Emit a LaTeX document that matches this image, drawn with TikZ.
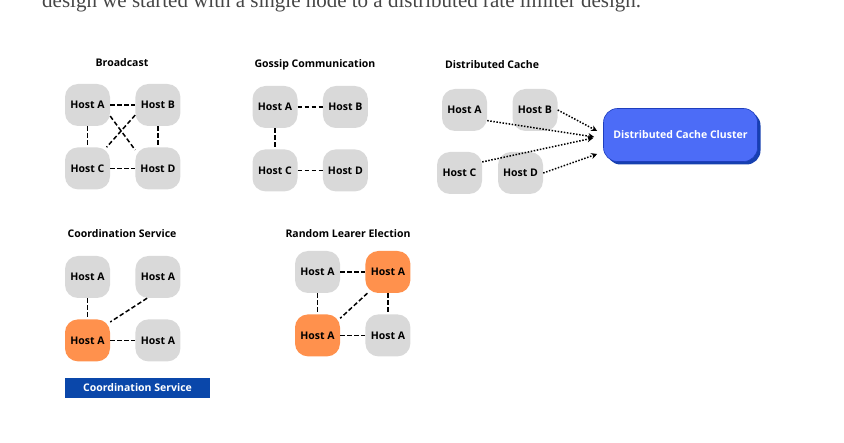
\documentclass[tikz,border=0pt]{standalone}
\usepackage{fontspec}
\setsansfont{Open Sans}
\newfontfamily\introfont{Liberation Serif}
\usepackage{tikz}
\usetikzlibrary{positioning, calc, arrows.meta, shadows}
\definecolor{hostgray}{RGB}{217, 217, 217}
\definecolor{leaderorange}{RGB}{255, 145, 77}
\definecolor{cacheblue}{RGB}{76, 108, 247}
\definecolor{cacheedge}{RGB}{30, 62, 190}
\definecolor{shadeblue}{RGB}{22, 64, 176}
\definecolor{coordblue}{RGB}{10, 71, 170}
\definecolor{introgray}{RGB}{70, 70, 70}

\tikzset{
    hostbox/.style={rectangle, rounded corners=13pt, fill=hostgray, minimum width=45pt, minimum height=42pt, inner sep=0pt, font=\sffamily\bfseries\fontsize{10.5}{12}\selectfont},
    leaderbox/.style={hostbox, fill=leaderorange},
    paneltitle/.style={font=\sffamily\bfseries\fontsize{10.5}{12}\selectfont},
    link/.style={line width=1.5pt, dash pattern=on 4.5pt off 2.5pt},
    cachelink/.style={line width=1.5pt, dash pattern=on 1.5pt off 1.6pt, -{Stealth[length=6pt,width=6pt]}}
}

\begin{document}
\begin{tikzpicture}[x=1pt, y=-1pt, node distance=21pt and 25pt]
    \useasboundingbox (0,0) rectangle (844,443);
    \clip (0,0) rectangle (844,443);

    % Text cut off above the figure
    \node[anchor=base west, inner sep=0pt, text=introgray, font=\introfont\fontsize{21}{24}\selectfont] (intro) at (42,7.5) {design we started with a single node to a distributed rate limiter design.};

    % Broadcast
    \node[paneltitle] (bcTitle) at (122,63) {Broadcast};
    \node[hostbox] (bcA) at (87.5,105) {Host A};
    \node[hostbox, right=of bcA] (bcB) {Host B};
    \node[hostbox, below=of bcA] (bcC) {Host C};
    \node[hostbox, below=of bcB] (bcD) {Host D};
    \draw[link] (bcA) -- (bcB);
    \draw[link] (bcA) -- (bcC);
    \draw[link] (bcB) -- (bcD);
    \draw[link] (bcC) -- (bcD);
    \draw[link] (bcA.-26) -- (bcD.141);
    \draw[link] (bcB.-156) -- (bcC.48);

    % Gossip Communication
    \node[paneltitle] (gsTitle) at (315,65) {Gossip Communication};
    \node[hostbox] (gsA) at (275,107) {Host A};
    \node[hostbox, right=of gsA] (gsB) {Host B};
    \node[hostbox, below=of gsA] (gsC) {Host C};
    \node[hostbox, below=of gsB] (gsD) {Host D};
    \draw[link] (gsA) -- (gsB);
    \draw[link] (gsA) -- (gsC);
    \draw[link] (gsC) -- (gsD);

    % Distributed Cache
    \node[paneltitle] (dcTitle) at (492,65) {Distributed Cache};
    \node[hostbox] (dcA) at (464.5,110) {Host A};
    \node[hostbox] (dcB) at (535,110) {Host B};
    \node[hostbox] (dcC) at (459.5,173) {Host C};
    \node[hostbox] (dcD) at (520.5,173) {Host D};
    \node[rectangle, rounded corners=14pt, fill=cacheblue, draw=cacheedge, line width=0.6pt, minimum width=154pt, minimum height=53pt, text=white, font=\sffamily\bfseries\fontsize{10.5}{12}\selectfont, drop shadow={shadow xshift=3pt, shadow yshift=-3pt, fill=shadeblue, opacity=1}] (cluster) at (680.5,135) {Distributed Cache Cluster};
    \coordinate (inB) at ($(cluster.west)+(-6,-4)$);
    \coordinate (inA) at ($(cluster.west)+(-9,2)$);
    \coordinate (inC) at ($(cluster.west)+(-10,3)$);
    \coordinate (inD) at ($(cluster.west)+(-6,19)$);
    \draw[cachelink] (dcB.east) -- (inB);
    \draw[cachelink] (dcA.-25) -- (inA);
    \draw[cachelink] (dcC.26) -- (inC);
    \draw[cachelink] (dcD.east) -- (inD);

    % Coordination Service
    \node[paneltitle] (csTitle) at (122,234) {Coordination Service};
    \node[hostbox] (csA) at (87.5,277) {Host A};
    \node[hostbox, right=of csA] (csB) {Host A};
    \node[leaderbox, below=of csA] (csC) {Host A};
    \node[hostbox, below=of csB] (csD) {Host A};
    \draw[link] (csA) -- (csC);
    \draw[link] (csB.-117) -- (csC.39);
    \draw[link] (csC) -- (csD);
    \node[rectangle, fill=coordblue, minimum width=145pt, minimum height=20pt, inner sep=0pt, text=white, font=\sffamily\bfseries\fontsize{10.5}{12}\selectfont] (csBar) at (137.5,388) {Coordination Service};

    % Random Learer Election
    \node[paneltitle] (reTitle) at (348,234) {Random Learer Election};
    \node[hostbox] (reA) at (317.5,272) {Host A};
    \node[leaderbox, right=of reA] (reB) {Host A};
    \node[leaderbox, below=of reA] (reC) {Host A};
    \node[hostbox, below=of reB] (reD) {Host A};
    \draw[link] (reA) -- (reB);
    \draw[link] (reA) -- (reC);
    \draw[link] (reB) -- (reD);
    \draw[link] (reB.-134) -- (reC.37);
    \draw[link] (reC) -- (reD);
\end{tikzpicture}
\end{document}
